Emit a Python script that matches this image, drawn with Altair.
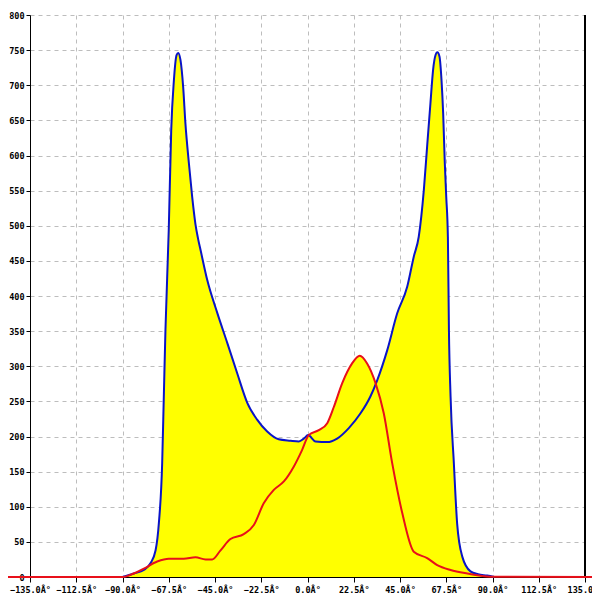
import altair as alt
import pandas as pd

# Blue series (degrees, value)
blue_x = [-90, -84.5, -79.6, -76.4, -73.9, -72.3, -70.7, -69.9, -69.1, -67.5, -66.3, -65, -63.7,
          -62.9, -61.8, -60.5, -59.4, -57.7, -56.1, -54.5, -53.2, -52, -48.8, -43.9, -39, -34.2, -29.3,
          -24.5, -19.6, -14, -8.3, -4.2, -1.8, 0.3, 3.9, 9.6, 14.4, 20.1, 25.8, 30.6, 33.9, 38.8,
          43.6, 48.5, 51.7, 54.1, 56.6, 58.2, 59.8, 61.1, 62.3, 63.2, 64.2, 65.2, 66, 66.8, 67.5,
          68.3, 68.8, 69.6, 71.2, 72.8, 75.3, 79.3, 83, 87.4, 91]
blue_y = [0, 5, 10, 19.5, 38, 77, 162, 257, 352, 494, 636, 707, 743,
          746, 736, 698, 646, 589, 541, 502, 481, 465, 423, 376, 333, 290, 248,
          224, 207, 196, 194, 193, 197, 202, 193, 192, 197, 212, 233, 257, 280, 323,
          375, 413, 456, 484, 551, 613, 674, 722, 743, 747, 741, 707, 660, 589, 541,
          484, 352, 257, 162, 76, 29, 8, 4, 2, 0]

# Red series
red_x = [-150, -90, -84.5, -79.6, -73.1, -67.5, -60.2, -54.5, -49.6, -46.4, -42.3, -37.5, -31,
         -26.1, -21.3, -16.4, -11.5, -6.7, -2.6, 0.6, 5.5, 9.6, 12.8, 16.9, 21.7, 25.4, 29,
         33.1, 37.1, 41.2, 46.1, 51.7, 58.2, 63.1, 69.6, 77.7, 89, 150]
red_y = [0, 0, 5, 12, 22, 26, 26, 28, 25, 25, 38, 54, 61,
         74, 105, 124, 136, 157, 181, 202, 209, 219, 242, 276, 304, 315, 304,
         276, 233, 162, 91, 36, 27, 17, 10, 5, 0.5, 0]

x_ticks = [-135, -112.5, -90, -67.5, -45, -22.5, 0, 22.5, 45, 67.5, 90, 112.5, 135]
y_ticks = list(range(0, 801, 50))

blue = pd.DataFrame({"x": blue_x, "y": blue_y})
red = pd.DataFrame({"x": red_x, "y": red_y})

xscale = alt.Scale(domain=[-135, 135], nice=False, zero=False)
yscale = alt.Scale(domain=[0, 800], nice=False)

xax = alt.Axis(values=x_ticks, labelExpr="format(datum.value, '.1f') + 'Â°'", title=None,
               grid=True, tickSize=5, labelPadding=3, labelFlush=False, labelOverlap=False)
yax = alt.Axis(values=y_ticks, title=None, grid=True, tickSize=4, labelPadding=2, labelOverlap=False)

X = alt.X("x:Q", scale=xscale, axis=xax)
Y = alt.Y("y:Q", scale=yscale, axis=yax)

blue_area = alt.Chart(blue).mark_area(color="#ffff00", interpolate="monotone", clip=True).encode(x=X, y=Y)
red_area = alt.Chart(red).mark_area(color="#ffff00", interpolate="monotone", clip=True).encode(x=X, y=Y)
blue_line = alt.Chart(blue).mark_line(color="#0a14c8", strokeWidth=2, interpolate="monotone").encode(x=X, y=Y)
red_line = alt.Chart(red).mark_line(color="#e8101a", strokeWidth=2, interpolate="monotone", clip=False).encode(x=X, y=Y)
right_frame = alt.Chart(blue).mark_rule(color="black", strokeWidth=1).encode(
    x=alt.value(555), y=alt.value(0), y2=alt.value(562))

chart = alt.layer(blue_area, red_area, right_frame, blue_line, red_line).properties(
    width=555, height=562,
    autosize=alt.AutoSizeParams(type="none"),
    padding={"left": 22, "top": 7, "right": 7, "bottom": 17},
    background="white",
).configure_axis(
    domainColor="black", tickColor="black", labelColor="black",
    labelFont="DejaVu Sans Mono", labelFontSize=8.5, labelFontWeight="bold",
    gridColor="#bdbdbd", gridDash=[4, 4], gridWidth=1,
).configure_view(stroke=None)

chart.save("out.html", embed_options={"renderer": "svg", "actions": False})
